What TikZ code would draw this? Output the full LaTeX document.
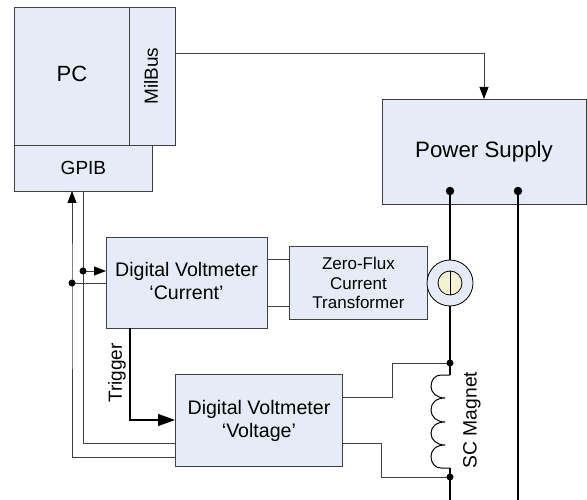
\documentclass[tikz,border=0pt]{standalone}
\usepackage{fontspec}
\setmainfont{Liberation Sans}
\usetikzlibrary{arrows.meta}
\definecolor{boxfill}{HTML}{E6ECF7}
\definecolor{boxline}{HTML}{404040}
\definecolor{sigline}{HTML}{404040}
\definecolor{core}{HTML}{F3F2D2}
\tikzset{
  x=1pt,y=-1pt,
  blockbox/.style={draw=boxline,fill=boxfill,line width=0.9pt,inner sep=0pt,align=center,text=black,anchor=north west},
  sig/.style={draw=sigline,line width=0.85pt},
  wire/.style={draw=black,line width=1.4pt},
  coil/.style={draw=black,line width=1pt},
  bigdot/.style={circle,fill=black,inner sep=0pt,minimum size=8.5pt},
  smalldot/.style={circle,fill=black,inner sep=0pt,minimum size=7pt},
  smalltip/.style={-{Triangle[length=12pt,width=9pt,color=black,fill=black]}},
  bigtip/.style={-{Triangle[length=17pt,width=12pt]}},
  lbig/.style={font=\fontsize{19}{23}\selectfont},
}
\begin{document}
\begin{tikzpicture}
\useasboundingbox (0,0) rectangle (587,500);
% boxes
\node[blockbox,minimum width=115pt,minimum height=138pt] (pc) at (14,7) {};
\node[blockbox,minimum width=46pt,minimum height=138pt] (milbus) at (129,7) {};
\node[blockbox,minimum width=138pt,minimum height=46pt,lbig] (gpib) at (14,145) {GPIB};
\node[blockbox,minimum width=204pt,minimum height=105pt] (ps) at (382,99) {};
\node[font=\fontsize{22.3}{26}\selectfont] (pslabel) at (484,152) {Power Supply};
\node[blockbox,minimum width=161pt,minimum height=91pt] (dvc) at (106,237) {};
\node[align=center,font=\fontsize{19.6}{23}\selectfont] (dvclabel) at (186.5,281) {Digital Voltmeter\\‘Current’};
\node[blockbox,minimum width=138pt,minimum height=73pt,font=\fontsize{17}{19.5}\selectfont] (zf) at (289,246) {Zero-Flux\\Current\\Transformer};
\node[blockbox,minimum width=167pt,minimum height=92pt,font=\fontsize{19.6}{23}\selectfont] (dvv) at (175,374) {Digital Voltmeter\\‘Voltage’};
\node[font=\fontsize{22}{26}\selectfont] (pclabel) at (72,74) {PC};
\node[rotate=90,lbig] (millabel) at (151,76) {MilBus};
\node[rotate=90,lbig] (triglabel) at (117,373) {Trigger};
\node[rotate=90,font=\fontsize{19.3}{23}\selectfont] (sclabel) at (472,420) {SC Magnet};
% anchors of the power wires
\coordinate (psa) at (450,191);
\coordinate (psb) at (518,191);
\coordinate (wa) at (450,500);
\coordinate (wb) at (518,500);
\coordinate (ct) at (450,283);
\coordinate (mtop) at (450,363);
\coordinate (mbot) at (450,477);
\coordinate (ctop) at (450,375);
\coordinate (cbot) at (450,468);
\coordinate (ja) at (72,283);
\coordinate (jb) at (83,271);
\coordinate (busa) at (72,457);
\coordinate (busb) at (83,443);
% power wires
\draw[wire] (psa) -- (ctop);
\draw[wire] (cbot) -- (wa);
\draw[wire] (psb) -- (wb);
\draw[coil] (ctop) -- (441,375) .. controls (435,375) and (431,380) .. (431,386.5) .. controls (431,393) and (437,398) .. (445,398)
  .. controls (436,398) and (431,403) .. (431,410) .. controls (431,417) and (437,422) .. (445,422)
  .. controls (436,422) and (431,427) .. (431,433.5) .. controls (431,440) and (437,445) .. (445,445)
  .. controls (436,445) and (431,450) .. (431,456.5) .. controls (431,463) and (435,468) .. (441,468) -- (cbot);
\node[bigdot] (da) at (psa) {};
\node[bigdot] (db) at (psb) {};
% current transformer
\node[circle,draw=black,line width=0.8pt,fill=boxfill,inner sep=0pt,minimum size=46pt] (ctouter) at (ct) {};
\node[circle,draw=black,line width=0.8pt,fill=core,inner sep=0pt,minimum size=24pt] (ctinner) at (ct) {};
\draw[black,line width=0.8pt] (ctinner.north) -- (ctinner.south);
% signals
\draw[sig,smalltip] (milbus.east |- 0,53) -- (484,53) -- (484,99);
\draw[sig,smalltip] (dvv.west |- busa) -- (busa) -- (ja) -- (72,191);
\draw[sig] (83,191) -- (busb) -- (dvv.west |- busb);
\draw[sig,smalltip] (jb) -- (dvc.west |- jb);
\draw[sig] (ja) -- (dvc.west |- ja);
\draw[sig] (dvc.east |- 0,259) -- (zf.west |- 0,259);
\draw[sig] (dvc.east |- 0,306) -- (zf.west |- 0,306);
\draw[wire,bigtip] (130,328) -- (130,420) -- (dvv.west |- 0,420);
\draw[sig] (dvv.east |- 0,397) -- (392,397) -- (392,363) -- (mtop);
\draw[sig] (dvv.east |- 0,443) -- (381,443) -- (381,477) -- (mbot);
\node[smalldot] (dj1) at (ja) {};
\node[smalldot] (dj2) at (jb) {};
\node[smalldot] (dm1) at (mtop) {};
\node[smalldot] (dm2) at (mbot) {};
\end{tikzpicture}
\end{document}
